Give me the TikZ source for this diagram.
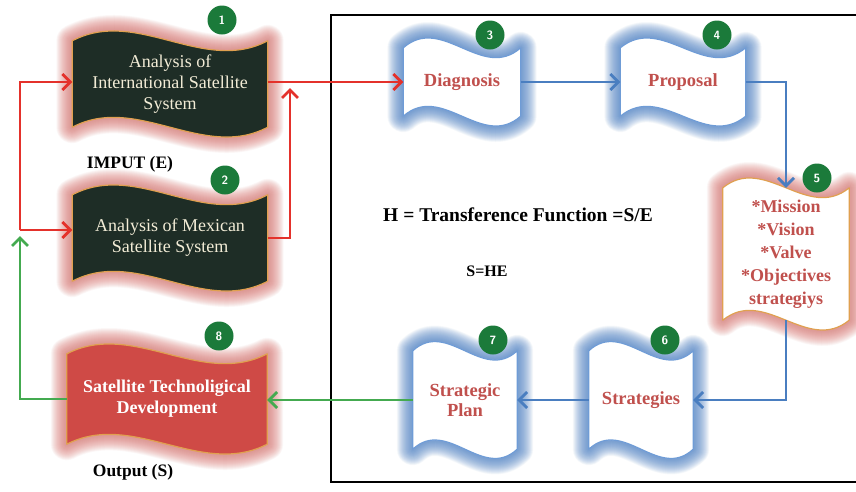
\documentclass[tikz,border=0pt]{standalone}
\usepackage{fontspec}
\setmainfont{Liberation Serif}
\usetikzlibrary{calc,arrows.meta}
\pgfdeclarelayer{background}
\pgfsetlayers{background,main}
\definecolor{darkfill}{HTML}{1E2D26}
\definecolor{redglow}{HTML}{DE7A76}
\definecolor{orangeline}{HTML}{E0A050}
\definecolor{redfill}{HTML}{CF4A46}
\definecolor{txtred}{HTML}{C0504D}
\definecolor{blueglow}{HTML}{4F84C8}
\definecolor{blueline}{HTML}{6F9CD6}
\definecolor{arrred}{HTML}{E4312B}
\definecolor{arrblue}{HTML}{4A7EC0}
\definecolor{arrgreen}{HTML}{44AA50}
\definecolor{numgreen}{HTML}{1B7A3A}
\definecolor{creamtxt}{HTML}{F2ECD6}
\newcommand\glowwave[5]{%
  \foreach \w in {32,31,...,3}{%
    \draw[draw=#3, line width=\w pt, opacity=0.04, line join=round]
    (#1.north west) .. controls ($(#1.north west)!0.33!(#1.north east)+(0,-#2)$) and ($(#1.north west)!0.67!(#1.north east)+(0,#2)$) .. (#1.north east)
    -- (#1.south east) .. controls ($(#1.south west)!0.67!(#1.south east)+(0,#2)$) and ($(#1.south west)!0.33!(#1.south east)+(0,-#2)$) .. (#1.south west) -- cycle;}
  \draw[fill=#4, draw=#5, line width=1.2pt, line join=round]
    (#1.north west) .. controls ($(#1.north west)!0.33!(#1.north east)+(0,-#2)$) and ($(#1.north west)!0.67!(#1.north east)+(0,#2)$) .. (#1.north east)
    -- (#1.south east) .. controls ($(#1.south west)!0.67!(#1.south east)+(0,#2)$) and ($(#1.south west)!0.33!(#1.south east)+(0,-#2)$) .. (#1.south west) -- cycle;
}
\tikzset{
  wavebox/.style={rectangle, inner sep=0pt, align=center},
  darkbox/.style={wavebox, text=creamtxt, font=\fontsize{18}{21}\selectfont},
  whitebox/.style={wavebox, text=txtred, font=\bfseries\fontsize{18.5}{20}\selectfont},
  num/.style={circle, fill=numgreen, text=white, font=\sffamily\bfseries\fontsize{12}{12}\selectfont, minimum size=29pt, inner sep=0pt},
  lbl/.style={font=\bfseries\fontsize{17.5}{18}\selectfont, text=black},
  redarr/.style={draw=arrred, line width=2.8pt, -{Straight Barb[length=8pt,width=16pt,line width=2.8pt]}},
  bluearr/.style={draw=arrblue, line width=2.8pt, -{Straight Barb[length=8pt,width=16pt,line width=2.8pt]}},
  greenarr/.style={draw=arrgreen, line width=2.8pt, -{Straight Barb[length=8pt,width=16pt,line width=2.8pt]}},
  frameline/.style={draw=black, line width=2.5pt}
}
\begin{document}
\begin{tikzpicture}[x=1pt,y=-1pt]
\useasboundingbox (0,0) rectangle (856,491);
\draw[frameline] (857,15) -- (331,15) -- (331,482) -- (857,482);

% nodes
\node[darkbox, minimum width=195pt, minimum height=86pt] (n1) at (170,84) {Analysis of\\International Satellite\\System};
\node[darkbox, minimum width=195pt, minimum height=86pt] (n2) at (170,238) {Analysis of Mexican\\Satellite System};
\node[wavebox, text=white, font=\bfseries\fontsize{18}{21}\selectfont, minimum width=200pt, minimum height=90pt] (n8) at (167,399) {Satellite Technoligical\\Development};
\node[whitebox, minimum width=117pt, minimum height=68pt] (n3) at (462,82) {Diagnosis};
\node[whitebox, minimum width=125pt, minimum height=68pt] (n4) at (683,82) {Proposal};
\node[wavebox, text=txtred, font=\bfseries\fontsize{18}{23}\selectfont, minimum width=126pt, minimum height=132pt] (n5) at (786,254) {*Mission\\*Vision\\*Valve\\*Objectives\\strategiys};
\node[whitebox, minimum width=104pt, minimum height=98pt] (n6) at (641,400) {Strategies};
\node[whitebox, minimum width=104pt, minimum height=98pt] (n7) at (465,400) {Strategic\\Plan};

\begin{pgfonlayer}{background}
\fill[white] (0,0) rectangle (856,491);
\glowwave{n1}{34}{redglow}{darkfill}{orangeline}
\glowwave{n2}{34}{redglow}{darkfill}{orangeline}
\glowwave{n8}{34}{redglow}{redfill}{orangeline}
\glowwave{n3}{34}{blueglow}{white}{blueline}
\glowwave{n4}{34}{blueglow}{white}{blueline}
\glowwave{n5}{34}{redglow}{white}{orangeline}
\glowwave{n6}{32}{blueglow}{white}{blueline}
\glowwave{n7}{32}{blueglow}{white}{blueline}
\end{pgfonlayer}

% numbers
\node[num] (c1) at (222,20) {1};
\node[num] (c2) at (225,180) {2};
\node[num] (c3) at (490,35) {3};
\node[num] (c4) at (717,35) {4};
\node[num] (c5) at (817,178) {5};
\node[num] (c6) at (665,340) {6};
\node[num] (c7) at (493,340) {7};
\node[num] (c8) at (219,336) {8};

% labels
\node[lbl] (inp) at (130,164) {IMPUT (E)};
\node[lbl] (outp) at (133,472) {Output (S)};
\node[font=\bfseries\fontsize{19.5}{20}\selectfont] (hf) at (518,215) {H = Transference Function =S/E};
\node[font=\bfseries\fontsize{16}{20}\selectfont] (she) at (487,271) {S=HE};

% connectors
\coordinate (j1) at (290,88);
\coordinate (rc) at (20,230);
\coordinate (gt) at (20,236);
\draw[redarr] (n1.east |- n3.west) -- (n3.west);
\draw[redarr] (n2.east) -| (j1);
\draw[redarr] (rc) |- (n1.west |- n3.west);
\draw[redarr] (rc) -- (rc -| n2.west);
\draw[bluearr] (n3.east) -- (n4.west);
\draw[bluearr] (n4.east) -| (n5.north);
\draw[bluearr] (n5.south) |- (n6.east);
\draw[bluearr] (n6.west) -- (n7.east);
\draw[greenarr] (n7.west) -- (n7.west -| n8.east);
\draw[greenarr] (n8.west) -| (gt);
\end{tikzpicture}
\end{document}
